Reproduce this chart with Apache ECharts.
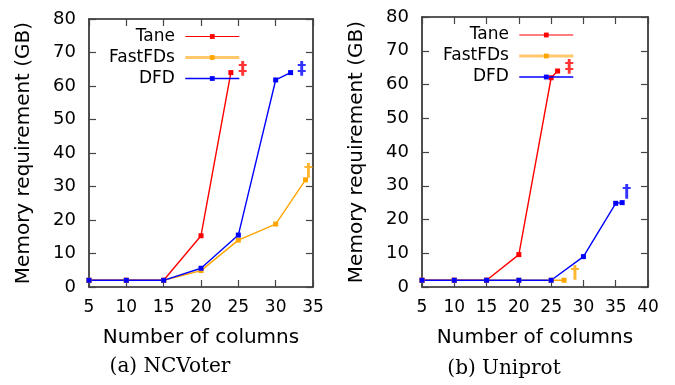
<!DOCTYPE html>
<html>
<head>
<meta charset="utf-8">
<script src="https://cdn.jsdelivr.net/npm/echarts@6/dist/echarts.min.js"></script>
<style>
  html, body { margin: 0; padding: 0; background: #fff; }
  #chart { width: 675px; height: 385px; }
</style>
</head>
<body>
<div id="chart"></div>
<script>
// NCVoter (a)
const ncvTaneCols = [5, 10, 15, 20, 24];
const ncvTaneMem = [2, 2, 2, 15.3, 64];
const ncvFastCols = [5, 10, 15, 20, 25, 30, 34];
const ncvFastMem = [2, 2, 2, 4.9, 14, 18.8, 32];
const ncvDfdCols = [5, 10, 15, 20, 25, 30, 32];
const ncvDfdMem = [2, 2, 2, 5.6, 15.5, 61.8, 64];

// Uniprot (b)
const uniTaneCols = [5, 10, 15, 20, 25, 26];
const uniTaneMem = [2, 2, 2, 9.6, 62, 64];
const uniFastCols = [5, 10, 15, 20, 25, 27];
const uniFastMem = [2, 2, 2, 2, 2, 2];
const uniDfdCols = [5, 10, 15, 20, 25, 30, 35, 36];
const uniDfdMem = [2, 2, 2, 2, 2, 9, 24.8, 25];

// run aborted markers: [column, memory, symbol, algorithm]
const ncvNotes = [[25.6, 65, '‡', 'Tane'], [33.5, 65, '‡', 'DFD'], [34.4, 34.5, '†', 'FastFDs']];
const uniNotes = [[27.8, 65.2, '‡', 'Tane'], [28.7, 4, '†', 'FastFDs'], [36.7, 28.1, '†', 'DFD']];

const algos = ['Tane', 'FastFDs', 'DFD'];
const yTicks = [0, 10, 20, 30, 40, 50, 60, 70, 80];
const captions = ['(a) NCVoter', '(b) Uniprot'];
const xTitle = 'Number of columns';
const yTitle = 'Memory requirement (GB)';

const colors = { Tane: '#ff0000', FastFDs: '#ffa500', DFD: '#0000ff' };
const font = 'DejaVu Sans';

const zip = (xs, ys) => xs.map((x, i) => [x, ys[i]]);

const chart = echarts.init(document.getElementById('chart'));

const grids = [
  { left: 89, right: 362, top: 19, bottom: 98 },
  { left: 422, right: 27, top: 17, bottom: 98 }
];

const axisLine = { show: true, onZero: false, lineStyle: { color: '#222', width: 1.6 } };
const axisTick = { show: true, inside: true, length: 7, lineStyle: { color: '#444', width: 1.2 } };

const xMax = [35, 40];
const xAxis = [];
const yAxis = [];
[0, 1].forEach(g => {
  xAxis.push({
    type: 'value', gridIndex: g, min: 5, max: xMax[g], interval: 5, position: 'bottom',
    axisLine, axisTick, splitLine: { show: false },
    axisLabel: { margin: 12, color: '#000', fontFamily: font, fontSize: 17 },
    name: xTitle, nameLocation: 'middle', nameGap: 41,
    nameTextStyle: { color: '#000', fontFamily: font, fontSize: 20 }
  });
  xAxis.push({
    type: 'value', gridIndex: g, min: 5, max: xMax[g], interval: 5, position: 'top',
    axisLine, axisTick, splitLine: { show: false }, axisLabel: { show: false }
  });
  yAxis.push({
    type: 'value', gridIndex: g, min: yTicks[0], max: yTicks[yTicks.length - 1], interval: 10, position: 'left',
    axisLine, axisTick, splitLine: { show: false },
    axisLabel: { margin: 13, color: '#000', fontFamily: font, fontSize: 18 },
    name: yTitle, nameLocation: 'middle', nameGap: 55, nameRotate: 90,
    nameTextStyle: { color: '#000', fontFamily: font, fontSize: 20 }
  });
  yAxis.push({
    type: 'value', gridIndex: g, min: yTicks[0], max: yTicks[yTicks.length - 1], interval: 10, position: 'right',
    axisLine, axisTick, splitLine: { show: false }, axisLabel: { show: false }
  });
});

const plotData = [
  { Tane: zip(ncvTaneCols, ncvTaneMem), FastFDs: zip(ncvFastCols, ncvFastMem), DFD: zip(ncvDfdCols, ncvDfdMem) },
  { Tane: zip(uniTaneCols, uniTaneMem), FastFDs: zip(uniFastCols, uniFastMem), DFD: zip(uniDfdCols, uniDfdMem) }
];
const notes = [ncvNotes, uniNotes];

const series = [];
[0, 1].forEach(g => {
  algos.forEach(name => {
    series.push({
      name, type: 'line', xAxisIndex: g * 2, yAxisIndex: g * 2,
      data: plotData[g][name],
      symbol: 'rect', symbolSize: 5, showAllSymbol: true,
      lineStyle: { color: colors[name], width: 1.4 },
      itemStyle: { color: colors[name] },
      animation: false
    });
  });
  series.push({
    type: 'scatter', xAxisIndex: g * 2, yAxisIndex: g * 2,
    symbol: 'rect', symbolSize: 1, itemStyle: { color: 'rgba(0,0,0,0)' },
    silent: true, animation: false,
    data: notes[g].map(n => ({
      value: [n[0], n[1]],
      label: {
        show: true, position: 'inside', formatter: n[2],
        color: colors[n[3]], fontFamily: font, fontSize: 18, fontWeight: 'bold'
      }
    }))
  });
});

const legendBase = {
  orient: 'vertical', align: 'right', itemWidth: 54, itemHeight: 6, itemGap: 4,
  padding: 0, selectedMode: false, formatter: '{name} ',
  textStyle: { color: '#000', fontFamily: font, fontSize: 17, lineHeight: 17 },
  data: [
    { name: 'Tane', lineStyle: { width: 1.2 } },
    { name: 'FastFDs', lineStyle: { width: 3, color: '#ffc86a' } },
    { name: 'DFD', lineStyle: { width: 1.4 } }
  ]
};

chart.setOption({
  animation: false,
  grid: grids,
  xAxis, yAxis, series,
  legend: [
    Object.assign({}, legendBase, { left: 109, top: 28 }),
    Object.assign({}, legendBase, { left: 443, top: 26.5 })
  ],
  graphic: [
    { type: 'text', x: 170, y: 367, style: { text: captions[0], fontFamily: 'DejaVu Serif', fontSize: 20, fill: '#000', textAlign: 'center', textVerticalAlign: 'middle' } },
    { type: 'text', x: 504, y: 369, style: { text: captions[1], fontFamily: 'DejaVu Serif', fontSize: 20, fill: '#000', textAlign: 'center', textVerticalAlign: 'middle' } }
  ]
});
</script>
</body>
</html>
